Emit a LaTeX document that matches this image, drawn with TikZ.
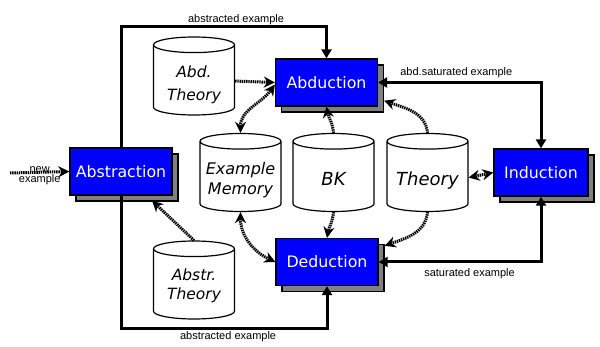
\documentclass[tikz,border=0pt]{standalone}
\usepackage{fontspec}
\setmainfont{DejaVu Sans}
\newfontfamily\labelfont{Liberation Sans}
\usetikzlibrary{arrows.meta,shapes.geometric,shadows}

\begin{document}
\begin{tikzpicture}[x=1pt, y=-1pt,
    proc/.style={draw=black, line width=1.3pt, fill=blue, text=white,
      font=\fontsize{15.8}{18}\selectfont, minimum width=102pt, minimum height=47pt,
      inner sep=0pt, drop shadow={fill=gray, draw=black, line width=1.3pt,
      opacity=1, shadow xshift=6pt, shadow yshift=-6pt}},
    store/.style={cylinder, shape border rotate=90, aspect=0.6, draw=black,
      line width=1.2pt, fill=white, minimum width=81pt, minimum height=78pt,
      inner sep=1pt, anchor=shape center,
      text width=24pt, text height=13.1pt, text depth=0pt},
    storetext/.style={align=center, inner sep=0pt,
      font=\fontsize{15.8}{20}\selectfont\itshape},
    bigtext/.style={storetext, text height=13.1pt, text depth=0pt,
      font=\fontsize{18}{21}\selectfont\itshape},
    flow/.style={line width=3pt, >={Triangle[length=9pt,width=10pt]}},
    hint/.style={line width=3pt, dash pattern=on 1.4pt off 0.8pt,
      >={Stealth[length=11pt,width=11pt,inset=3.5pt]}},
    lbl/.style={font=\labelfont\fontsize{11}{12}\selectfont, inner sep=1pt}]

  \useasboundingbox (0,0) rectangle (600,347);

  % process boxes
  \node[proc] (abstr) at (121,171.5) {Abstraction};
  \node[proc] (abduc) at (326.5,82.5) {Abduction};
  \node[proc] (deduc) at (327,262) {Deduction};
  \node[proc, minimum width=94pt] (induc) at (541,172.5) {Induction};

  % stores
  \node[store, label={[storetext, yshift=-3.5pt,
    font=\fontsize{15.5}{23}\selectfont\itshape]center:Abd.\\Theory}] (abdth) at (194,76) {};
  \node[store, label={[storetext, yshift=-2.5pt,
    font=\fontsize{16}{20}\selectfont\itshape]center:Example\\Memory}] (exmem) at (240.5,172.5) {};
  \node[store, label={[bigtext, yshift=-1pt]center:BK}] (bk) at (333.5,172.5) {};
  \node[store, label={[bigtext, yshift=-1pt]center:Theory}] (theory) at (427.5,172.5) {};
  \node[store, label={[storetext, yshift=-0.5pt,
    font=\fontsize{15.5}{19}\selectfont\itshape]center:Abstr.\\Theory}] (absth) at (194,280) {};

  \coordinate (top) at (0,27);
  \coordinate (bot) at (0,329);
  \coordinate (newex) at (10,173);

  % example flow
  \draw[flow, ->] (abstr.north) -- (abstr.north |- top)
    -| node[lbl, above, pos=0.28] {abstracted example} (abduc.north);
  \draw[flow, ->] (abstr.south) -- (abstr.south |- bot)
    -| node[lbl, below, pos=0.26] {abstracted example} (deduc.south);
  \draw[flow, <->] (abduc.east)
    -| node[lbl, above=2pt, pos=0.24] {abd.saturated example} (induc.north);
  \draw[flow, <->] (deduc.east)
    -| node[lbl, below=4pt, pos=0.28] {saturated example} (induc.south);

  % theory use
  \draw[hint, ->] (newex) -- node[lbl, above=-3pt] {new}
    node[lbl, below=0pt] {example} (abstr.west);
  \draw[hint, ->] (abdth.east) -- (abduc.west);
  \draw[hint, <->] (exmem.north) to[out=90, in=235] ([yshift=-2pt]abduc.west);
  \draw[hint, ->] (bk.north) to[out=95, in=-80] (abduc.south);
  \draw[hint, ->] (theory.north) to[out=95, in=-20] ([xshift=6pt, yshift=6pt]abduc.south east);
  \draw[hint, <->] (theory.east) -- (induc.west);
  \draw[hint, ->] (bk.south) to[out=-95, in=80] (deduc.north);
  \draw[hint, ->] (theory.south) to[out=-95, in=20] ([xshift=6pt, yshift=-8pt]deduc.north east);
  \draw[hint, <->] (exmem.south) to[out=-90, in=155] (deduc.west);
  \draw[hint, ->] (absth.north) -- ([xshift=31pt, yshift=-5pt]abstr.south);
\end{tikzpicture}
\end{document}
